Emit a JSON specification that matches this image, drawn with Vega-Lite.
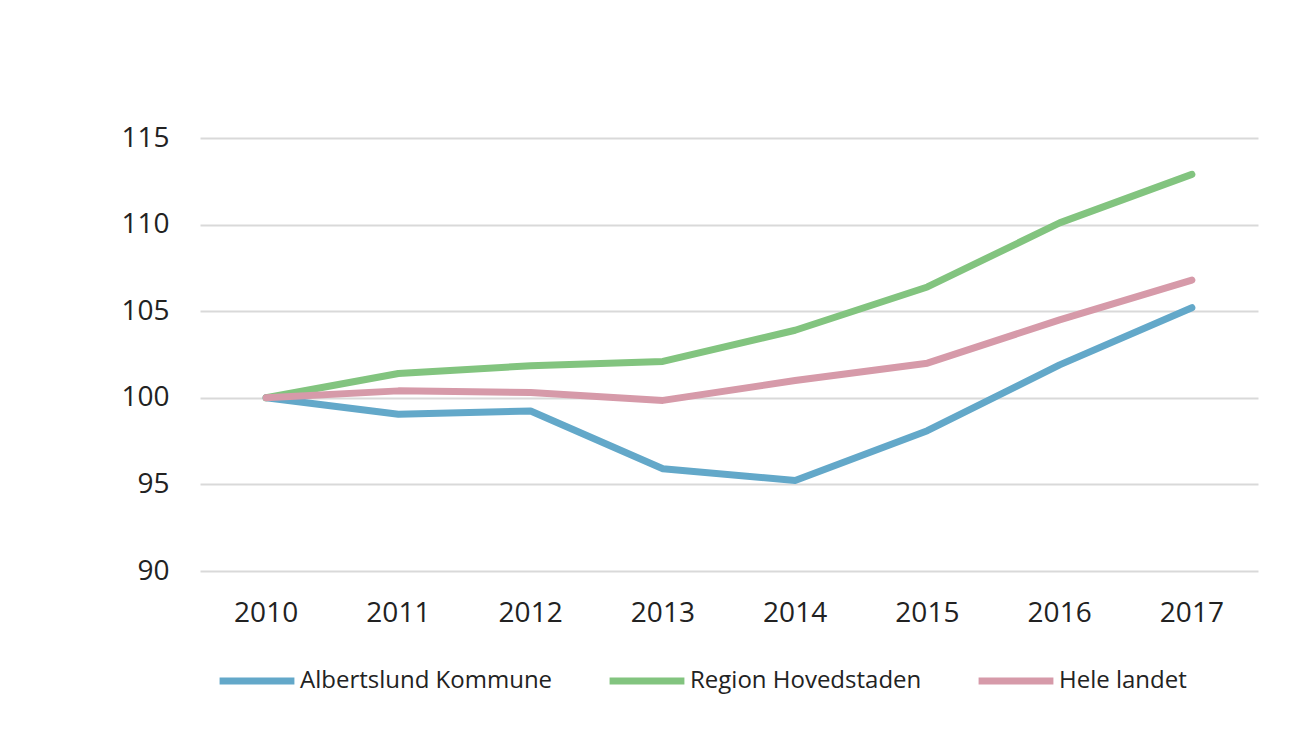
{
  "$schema": "https://vega.github.io/schema/vega-lite/v6.json",
  "autosize": "none",
  "width": 1058,
  "height": 433,
  "padding": {"left": 200, "top": 138, "right": 35, "bottom": 165},
  "background": "white",
  "config": {
    "view": {"stroke": null},
    "font": "Open Sans"
  },
  "data": {
    "values": [
      {"year": "2010", "series": "Albertslund Kommune", "value": 100},
      {"year": "2011", "series": "Albertslund Kommune", "value": 99.05},
      {"year": "2012", "series": "Albertslund Kommune", "value": 99.24},
      {"year": "2013", "series": "Albertslund Kommune", "value": 95.9},
      {"year": "2014", "series": "Albertslund Kommune", "value": 95.23},
      {"year": "2015", "series": "Albertslund Kommune", "value": 98.1},
      {"year": "2016", "series": "Albertslund Kommune", "value": 101.9},
      {"year": "2017", "series": "Albertslund Kommune", "value": 105.2},
      {"year": "2010", "series": "Region Hovedstaden", "value": 100},
      {"year": "2011", "series": "Region Hovedstaden", "value": 101.4},
      {"year": "2012", "series": "Region Hovedstaden", "value": 101.85},
      {"year": "2013", "series": "Region Hovedstaden", "value": 102.1},
      {"year": "2014", "series": "Region Hovedstaden", "value": 103.9},
      {"year": "2015", "series": "Region Hovedstaden", "value": 106.4},
      {"year": "2016", "series": "Region Hovedstaden", "value": 110.1},
      {"year": "2017", "series": "Region Hovedstaden", "value": 112.9},
      {"year": "2010", "series": "Hele landet", "value": 100},
      {"year": "2011", "series": "Hele landet", "value": 100.4},
      {"year": "2012", "series": "Hele landet", "value": 100.3},
      {"year": "2013", "series": "Hele landet", "value": 99.85},
      {"year": "2014", "series": "Hele landet", "value": 101.0},
      {"year": "2015", "series": "Hele landet", "value": 102.0},
      {"year": "2016", "series": "Hele landet", "value": 104.5},
      {"year": "2017", "series": "Hele landet", "value": 106.8}
    ]
  },
  "mark": {"type": "line", "strokeWidth": 7, "strokeCap": "round", "strokeJoin": "round"},
  "encoding": {
    "x": {
      "field": "year",
      "type": "ordinal",
      "scale": {"type": "band", "paddingInner": 0, "paddingOuter": 0},
      "axis": {
        "title": null,
        "labelAngle": 0,
        "labelFontSize": 28,
        "labelColor": "#222222",
        "labelPadding": 28,
        "ticks": false,
        "domain": false,
        "grid": false
      }
    },
    "y": {
      "field": "value",
      "type": "quantitative",
      "scale": {"domain": [90, 115], "nice": false, "zero": false},
      "axis": {
        "title": null,
        "values": [90, 95, 100, 105, 110, 115],
        "labelFontSize": 28,
        "labelColor": "#222222",
        "labelPadding": 31,
        "ticks": false,
        "domain": false,
        "grid": true,
        "gridColor": "#d9d9d9",
        "gridWidth": 2
      }
    },
    "color": {
      "field": "series",
      "type": "nominal",
      "scale": {
        "domain": ["Albertslund Kommune", "Region Hovedstaden", "Hele landet"],
        "range": ["#63a8c9", "#82c47f", "#d69aa9"]
      },
      "legend": {
        "title": null,
        "orient": "none",
        "direction": "horizontal",
        "legendX": 16,
        "legendY": 502,
        "symbolType": "stroke",
        "symbolStrokeWidth": 7,
        "symbolSize": 5600,
        "labelFontSize": 24,
        "labelColor": "#222222",
        "labelOffset": 2,
        "columnPadding": 42,
        "labelLimit": 400
      }
    }
  }
}
